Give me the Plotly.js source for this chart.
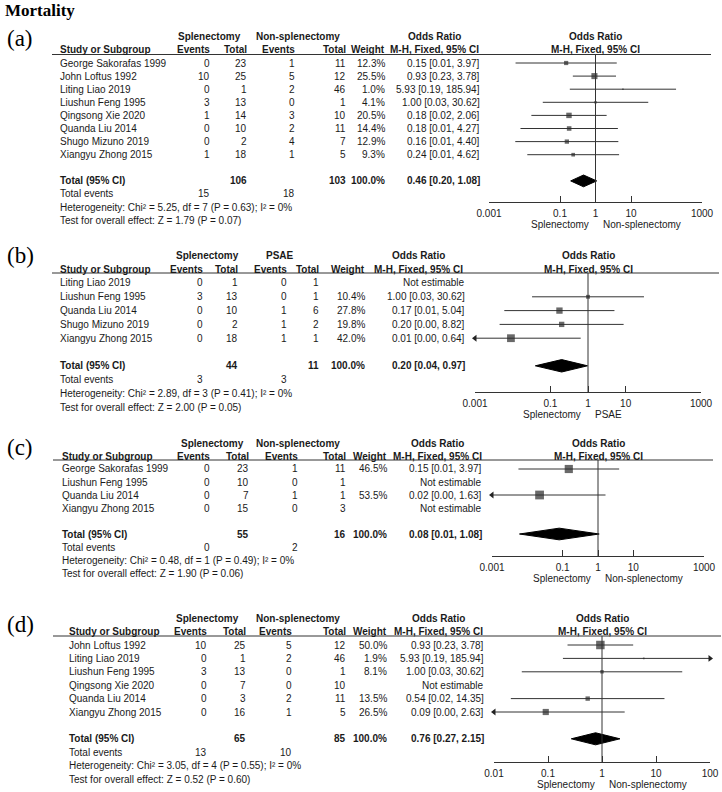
<!DOCTYPE html>
<html><head><meta charset="utf-8">
<script src="https://cdn.plot.ly/plotly-3.0.1.min.js"></script>
<style>html,body{margin:0;padding:0;background:#fff}#chart{width:722px;height:792px}</style>
</head><body><div id="chart"></div>
<script>
// ================= DATA =================
const chartTitle = "Mortality";
const ticksWide = [0.001, 0.1, 1, 10, 1000];
const tickTextWide = ["0.001", "0.1", "1", "10", "1000"];
const ticksNarrow = [0.01, 0.1, 1, 10, 100];
const tickTextNarrow = ["0.01", "0.1", "1", "10", "100"];

// Panel (a)
const groupA = ["Splenectomy", "Non-splenectomy"];
const studiesA = ["George Sakorafas 1999","John Loftus 1992","Liting Liao 2019","Liushun Feng 1995","Qingsong Xie 2020","Quanda Liu 2014","Shugo Mizuno 2019","Xiangyu Zhong 2015"];
const evSplA = [0,10,0,3,1,0,0,1];
const nSplA  = [23,25,1,13,14,10,2,18];
const evCtlA = [1,5,2,0,3,2,4,1];
const nCtlA  = [11,12,46,1,10,11,7,5];
const weightA = [12.3,25.5,1.0,4.1,20.5,14.4,12.9,9.3];
const orA = [0.149,0.933,5.93,1.00,0.179,0.181,0.156,0.2353];
const loA = [0.0056,0.23,0.189,0.0327,0.0156,0.0077,0.0055,0.012];
const hiA = [3.97,3.78,185.94,30.62,2.06,4.27,4.40,4.62];
const totalOrA = [0.46, 0.20, 1.08];
const hetA = [5.25, 7, 0.63, 0];   // Chi², df, P, I²
const effA = [1.79, 0.07];         // Z, P

// Panel (b)
const groupB = ["Splenectomy", "PSAE"];
const studiesB = ["Liting Liao 2019","Liushun Feng 1995","Quanda Liu 2014","Shugo Mizuno 2019","Xiangyu Zhong 2015"];
const evSplB = [0,3,0,0,0];
const nSplB  = [1,13,10,2,18];
const evCtlB = [0,0,1,1,1];
const nCtlB  = [1,1,6,2,1];
const weightB = [null,10.4,27.8,19.8,42.0];
const orB = [null,1.00,0.1746,0.20,0.009];
const loB = [null,0.0327,0.006,0.0045,0.00013];
const hiB = [null,30.62,5.04,8.82,0.64];
const totalOrB = [0.20, 0.04, 0.97];
const hetB = [2.89, 3, 0.41, 0];
const effB = [2.00, 0.05];

// Panel (c)
const groupC = ["Splenectomy", "Non-splenectomy"];
const studiesC = ["George Sakorafas 1999","Liushun Feng 1995","Quanda Liu 2014","Xiangyu Zhong 2015"];
const evSplC = [0,0,0,0];
const nSplC  = [23,10,7,15];
const evCtlC = [1,0,1,0];
const nCtlC  = [11,1,1,3];
const weightC = [46.5,null,53.5,null];
const orC = [0.149,null,0.0222,null];
const loC = [0.0056,null,0.0003,null];
const hiC = [3.97,null,1.63,null];
const totalOrC = [0.08, 0.006, 1.08];
const hetC = [0.48, 1, 0.49, 0];
const effC = [1.90, 0.06];

// Panel (d)
const groupD = ["Splenectomy", "Non-splenectomy"];
const studiesD = ["John Loftus 1992","Liting Liao 2019","Liushun Feng 1995","Qingsong Xie 2020","Quanda Liu 2014","Xiangyu Zhong 2015"];
const evSplD = [10,0,3,0,0,0];
const nSplD  = [25,1,13,7,3,16];
const evCtlD = [5,2,0,0,2,1];
const nCtlD  = [12,46,1,10,11,5];
const weightD = [50.0,1.9,8.1,null,13.5,26.5];
const orD = [0.933,5.93,1.00,null,0.543,0.0909];
const loD = [0.23,0.189,0.0327,null,0.0205,0.0031];
const hiD = [3.78,185.94,30.62,null,14.35,2.63];
const totalOrD = [0.76, 0.27, 2.15];
const hetD = [3.05, 4, 0.55, 0];
const effD = [0.52, 0.60];

// ================= LAYOUT HELPERS =================
const W = 722, H = 792;
const px = x => x / W;
const py = y => 1 - y / H;
const SANS = 'Liberation Sans, Arial, Helvetica, sans-serif';
const SERIF = 'Liberation Serif, Times New Roman, serif';
const INK = '#1a1a1a';
const FS = 10;

const panels = [
  { tag:'(a)', tagY:38, studies:studiesA, evS:evSplA, nS:nSplA, evC:evCtlA, nC:nCtlA, w:weightA, or:orA, lo:loA, hi:hiA, tot:totalOrA, het:hetA, eff:effA, grp:groupA,
    y0:63, step:13.1, lineY:54.5, axisY:202, lineX:[52,711], plotX:[489,702], range:[-3,3], tv:ticksWide, tt:tickTextWide,
    c:{study:59, evS:211, nS:248, evC:296, nC:347, w:386, or:481, gS:209, gC:298, orH:434} },
  { tag:'(b)', tagY:255, studies:studiesB, evS:evSplB, nS:nSplB, evC:evCtlB, nC:nCtlB, w:weightB, or:orB, lo:loB, hi:hiB, tot:totalOrB, het:hetB, eff:effB, grp:groupB,
    y0:283, step:13.8, lineY:273, axisY:392, lineX:[52,719], plotX:[475,701], range:[-3,3], tv:ticksWide, tt:tickTextWide,
    c:{study:59, evS:204, nS:239, evC:288, nC:320, w:366, or:466, gS:207, gC:280, orH:418} },
  { tag:'(c)', tagY:447, studies:studiesC, evS:evSplC, nS:nSplC, evC:evCtlC, nC:nCtlC, w:weightC, or:orC, lo:loC, hi:hiC, tot:totalOrC, het:hetC, eff:effC, grp:groupC,
    y0:469, step:13, lineY:460, axisY:556, lineX:[53,713], plotX:[492,704], range:[-3,3], tv:ticksWide, tt:tickTextWide,
    c:{study:61, evS:211, nS:250, evC:299, nC:347, w:388, or:483, gS:212, gC:298, orH:437} },
  { tag:'(d)', tagY:624, studies:studiesD, evS:evSplD, nS:nSplD, evC:evCtlD, nC:nCtlD, w:weightD, or:orD, lo:loD, hi:hiD, tot:totalOrD, het:hetD, eff:effD, grp:groupD,
    y0:645, step:13.4, lineY:636, axisY:762, lineX:[53,721], plotX:[494,710], range:[-2,2], tv:ticksNarrow, tt:tickTextNarrow,
    c:{study:68, evS:208, nS:247, evC:293, nC:347, w:388, or:485, gS:207, gC:298, orH:438} }
];

const traces = [];
const annotations = [];
const shapes = [];
const layout = {
  width: W, height: H, margin:{l:0,r:0,t:0,b:0},
  paper_bgcolor:'#fff', plot_bgcolor:'rgba(0,0,0,0)', showlegend:false,
  font:{family:SANS, size:FS, color:INK},
  annotations, shapes
};

annotations.push({xref:'paper', yref:'paper', x:px(3), y:py(11), xanchor:'left', yanchor:'middle', showarrow:false,
  text:'<b>'+chartTitle+'</b>', font:{family:SERIF, size:17, color:'#000'}});

const fmt2 = v => v.toFixed(2);
const orText = (e,l,h) => fmt2(e) + ' [' + fmt2(l) + ', ' + fmt2(h) + ']';
const sum = a => a.reduce((s,v)=>s+v,0);

panels.forEach((p, i) => {
  const sfx = i === 0 ? '' : String(i+1);
  const xa = 'x' + sfx, ya = 'y' + sfx;
  const n = p.studies.length;
  const rBot = (p.axisY - p.y0) / p.step;
  const rTop = (p.lineY - p.y0) / p.step;
  const rowY = r => py(p.y0 + r * p.step);   // row -> paper y (same mapping as the y axis)
  layout['xaxis' + sfx] = {
    type:'log', range:p.range, domain:[px(p.plotX[0]), px(p.plotX[1])], anchor:ya,
    showline:true, linecolor:'#333', linewidth:1, ticks:'inside', ticklen:6, tickcolor:'#333', tickwidth:1,
    tickvals:p.tv, ticktext:p.tt, showgrid:false, zeroline:false, fixedrange:true,
    tickfont:{family:SANS, size:FS, color:INK}, ticklabelstandoff:2
  };
  layout['yaxis' + sfx] = {
    range:[rBot, rTop], domain:[py(p.axisY), py(p.lineY)], anchor:xa,
    visible:false, showgrid:false, zeroline:false, fixedrange:true
  };

  // header rule across the table
  shapes.push({type:'line', xref:'paper', yref:'paper', x0:px(p.lineX[0]), x1:px(p.lineX[1]), y0:py(p.lineY), y1:py(p.lineY),
    line:{color:'#333', width:1}});
  // line of no effect (OR = 1)
  shapes.push({type:'line', xref:xa, yref:ya + ' domain', x0:1, x1:1, y0:0, y1:1, line:{color:'#333', width:1}});

  // CI lines, squares, arrows
  const xmin = Math.pow(10, p.range[0]), xmax = Math.pow(10, p.range[1]);
  const lx = [], ly = [], sx = [], sy = [], ss = [], alx = [], aly = [], arx = [], ary = [];
  for (let r = 0; r < n; r++) {
    if (p.or[r] == null) continue;
    lx.push(Math.max(p.lo[r], xmin), Math.min(p.hi[r], xmax), null);
    ly.push(r, r, null);
    sx.push(p.or[r]); sy.push(r); ss.push(Math.max(1.5, 1.2 * Math.sqrt(p.w[r])));
    if (p.lo[r] < xmin) { alx.push(xmin); aly.push(r); }
    if (p.hi[r] > xmax) { arx.push(xmax); ary.push(r); }
  }
  traces.push({type:'scatter', mode:'lines', x:lx, y:ly, xaxis:xa, yaxis:ya, line:{color:'#333', width:1}, hoverinfo:'skip', cliponaxis:false});
  traces.push({type:'scatter', mode:'markers', x:sx, y:sy, xaxis:xa, yaxis:ya, marker:{symbol:'square', size:ss, color:'#2a2a2a', line:{width:0}}, hoverinfo:'skip', cliponaxis:false});
  if (alx.length) traces.push({type:'scatter', mode:'markers', x:alx, y:aly, xaxis:xa, yaxis:ya, marker:{symbol:'triangle-left', size:6, color:'#222'}, hoverinfo:'skip', cliponaxis:false});
  if (arx.length) traces.push({type:'scatter', mode:'markers', x:arx, y:ary, xaxis:xa, yaxis:ya, marker:{symbol:'triangle-right', size:6, color:'#222'}, hoverinfo:'skip', cliponaxis:false});

  // pooled diamond
  const rt = n + 1, hh = 0.45;
  traces.push({type:'scatter', mode:'lines', fill:'toself', fillcolor:'#000',
    x:[p.tot[1], p.tot[0], p.tot[2], p.tot[0], p.tot[1]], y:[rt, rt-hh, rt, rt+hh, rt],
    xaxis:xa, yaxis:ya, line:{color:'#000', width:1}, hoverinfo:'skip', cliponaxis:false});

  // ---- table text ----
  const T = (x, r, text, anchor, bold) => annotations.push({
    xref:'paper', yref:'paper', x:px(x), y:rowY(r), xanchor:anchor, yanchor:'middle', showarrow:false,
    text: bold ? '<b>' + text + '</b>' : text, font:{family:SANS, size:FS, color:INK}, borderpad:0
  });
  const F = (r, text, bold) => annotations.push({
    xref:xa, yref:'paper', x:0, y:rowY(r), xanchor:'center', yanchor:'middle', showarrow:false,
    text: bold ? '<b>' + text + '</b>' : text, font:{family:SANS, size:FS, color:INK}, borderpad:0
  });
  const c = p.c;
  // panel tag
  annotations.push({xref:'paper', yref:'paper', x:px(5), y:py(p.tagY), xanchor:'left', yanchor:'middle', showarrow:false,
    text:p.tag, font:{family:SERIF, size:23, color:'#000'}});
  // header row 1
  T(c.gS, -2, p.grp[0], 'center', true);
  T(c.gC, -2, p.grp[1], 'center', true);
  T(c.orH, -2, 'Odds Ratio', 'center', true);
  F(-2, 'Odds Ratio', true);
  // header row 2
  T(c.study, -1, 'Study or Subgroup', 'left', true);
  T(c.evS, -1, 'Events', 'right', true);
  T(c.nS, -1, 'Total', 'right', true);
  T(c.evC, -1, 'Events', 'right', true);
  T(c.nC, -1, 'Total', 'right', true);
  T(c.w, -1, 'Weight', 'right', true);
  T(c.orH, -1, 'M-H, Fixed, 95% CI', 'center', true);
  F(-1, 'M-H, Fixed, 95% CI', true);
  // study rows
  for (let r = 0; r < n; r++) {
    T(c.study, r, p.studies[r], 'left');
    T(c.evS, r, String(p.evS[r]), 'right');
    T(c.nS, r, String(p.nS[r]), 'right');
    T(c.evC, r, String(p.evC[r]), 'right');
    T(c.nC, r, String(p.nC[r]), 'right');
    if (p.w[r] != null) T(c.w, r, p.w[r].toFixed(1) + '%', 'right');
    T(c.or, r, p.or[r] == null ? 'Not estimable' : orText(p.or[r], p.lo[r], p.hi[r]), 'right');
  }
  // totals
  T(c.study, rt, 'Total (95% CI)', 'left', true);
  T(c.nS, rt, String(sum(p.nS)), 'right', true);
  T(c.nC, rt, String(sum(p.nC)), 'right', true);
  T(c.w, rt, '100.0%', 'right', true);
  T(c.or, rt, orText(p.tot[0], p.tot[1], p.tot[2]), 'right', true);
  T(c.study, rt + 1, 'Total events', 'left');
  T(c.evS, rt + 1, String(sum(p.evS)), 'right');
  T(c.evC, rt + 1, String(sum(p.evC)), 'right');
  T(c.study, rt + 2, 'Heterogeneity: Chi\u00b2 = ' + p.het[0].toFixed(2) + ', df = ' + p.het[1] + ' (P = ' + p.het[2].toFixed(2) + '); I\u00b2 = ' + p.het[3] + '%', 'left');
  T(c.study, rt + 3, 'Test for overall effect: Z = ' + p.eff[0].toFixed(2) + ' (P = ' + p.eff[1].toFixed(2) + ')', 'left');
  // favours labels under the axis
  annotations.push({xref:xa, yref:'paper', x:0, xshift:-5, y:py(p.axisY + 22), xanchor:'right', yanchor:'middle', showarrow:false,
    text:p.grp[0], font:{family:SANS, size:FS, color:INK}});
  annotations.push({xref:xa, yref:'paper', x:0, xshift:5, y:py(p.axisY + 22), xanchor:'left', yanchor:'middle', showarrow:false,
    text:p.grp[1], font:{family:SANS, size:FS, color:INK}});
});

Plotly.newPlot('chart', traces, layout, {displayModeBar:false, staticPlot:true});
</script>
</body></html>
